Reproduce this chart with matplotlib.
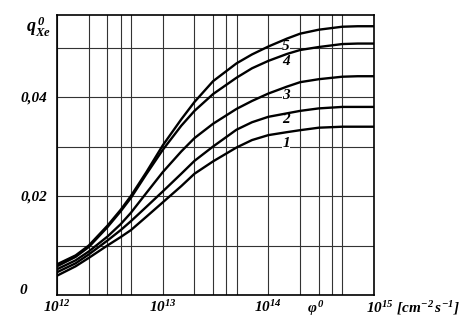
import matplotlib.pyplot as plt
import numpy as np

plt.rcParams['mathtext.fontset'] = 'custom'
plt.rcParams['mathtext.rm'] = 'Liberation Serif:italic:bold'
plt.rcParams['mathtext.it'] = 'Liberation Serif:italic:bold'
plt.rcParams['mathtext.bf'] = 'Liberation Serif:italic:bold'

# flux values, curves
flux = [1e12, 1.5e12, 2e12, 3e12, 4e12, 5e12, 7e12, 1e13, 1.5e13, 2e13, 3e13, 5e13, 7e13,
        1e14, 1.5e14, 2e14, 3e14, 5e14, 7e14, 1e15]
q1 = [0.0039, 0.0058, 0.0075, 0.0100, 0.0117, 0.0131, 0.0158, 0.0187, 0.0220, 0.0245, 0.0270,
      0.0298, 0.0313, 0.0323, 0.0329, 0.0333, 0.0338, 0.0340, 0.0340, 0.0340]
q2 = [0.0046, 0.0064, 0.0082, 0.0110, 0.0131, 0.0149, 0.0178, 0.0209, 0.0245, 0.0271, 0.0300,
      0.0334, 0.0349, 0.0360, 0.0367, 0.0372, 0.0377, 0.0380, 0.0380, 0.0380]
q3 = [0.0052, 0.0070, 0.0088, 0.0118, 0.0143, 0.0166, 0.0206, 0.0248, 0.0290, 0.0317, 0.0346,
      0.0376, 0.0392, 0.0407, 0.0421, 0.0430, 0.0436, 0.0441, 0.0442, 0.0442]
q4 = [0.0058, 0.0077, 0.0097, 0.0137, 0.0169, 0.0196, 0.0244, 0.0293, 0.0342, 0.0372, 0.0406,
      0.0439, 0.0458, 0.0473, 0.0487, 0.0495, 0.0501, 0.0507, 0.0508, 0.0508]
q5 = [0.0062, 0.0080, 0.0100, 0.0140, 0.0172, 0.0200, 0.0248, 0.0302, 0.0355, 0.0390, 0.0432,
      0.0468, 0.0486, 0.0502, 0.0518, 0.0528, 0.0536, 0.0542, 0.0543, 0.0543]
curves = [q1, q2, q3, q4, q5]
curve_names = ['1', '2', '3', '4', '5']
label_y = [0.0307, 0.0354, 0.0404, 0.0471, 0.0502]

fig = plt.figure(figsize=(4.73, 3.25), dpi=100)
ax = fig.add_axes([57 / 473, 1 - 295 / 325, (374 - 57) / 473, (295 - 15) / 325])

ax.set_xscale('log')
ax.set_xlim(1e12, 1e15)
ax.set_ylim(0, 0.05657)

# grid: 1..5 in each decade, every 0.01 vertically
minor = [m * 10.0 ** k for k in (12, 13, 14) for m in (2, 3, 4, 5)]
ax.set_xticks([1e12, 1e13, 1e14])
ax.set_xticks(minor, minor=True)
ax.set_yticks([0, 0.01, 0.02, 0.03, 0.04, 0.05])
ax.grid(True, which='both', color='#333333', lw=0.8)
ax.tick_params(which='both', length=0)
ax.set_xticklabels([r'$10^{12}$', r'$10^{13}$', r'$10^{14}$'], fontsize=11)
ax.set_xticklabels([], minor=True)
ax.set_yticklabels(['', '', '0,02', '', '0,04', ''],
                   fontsize=11, family='Liberation Serif', weight='bold', style='italic')
ax.tick_params(axis='x', pad=3)
ax.tick_params(axis='y', pad=7)
for s in ax.spines.values():
    s.set_linewidth(1.2)
    s.set_color('black')

for q in curves:
    ax.plot(flux, q, color='black', lw=1.7, zorder=3)

for name, y in zip(curve_names, label_y):
    ax.text(1.47e14, y, name, fontsize=11, family='Liberation Serif', weight='bold',
            style='italic', ha='center', va='center', zorder=2.5,
            bbox=dict(facecolor='white', edgecolor='none', pad=0.3))

fig.text(26 / 473, 1 - 27 / 325, r'$q^{\,0}_{Xe}$', fontsize=13, ha='left', va='center')
fig.text(23 / 473, 1 - 290 / 325, '0', fontsize=11, family='Liberation Serif', weight='bold',
         style='italic', ha='center', va='center')
ax.text(2.8e14, -0.0027, r'$\varphi^{\,0}$', fontsize=11, ha='center', va='center')
ax.text(0.84e15, -0.0027, r'$10^{15}\ [cm^{-2}\,s^{-1}]$', fontsize=11, ha='left', va='center')

fig.savefig('out.png', dpi=100)
